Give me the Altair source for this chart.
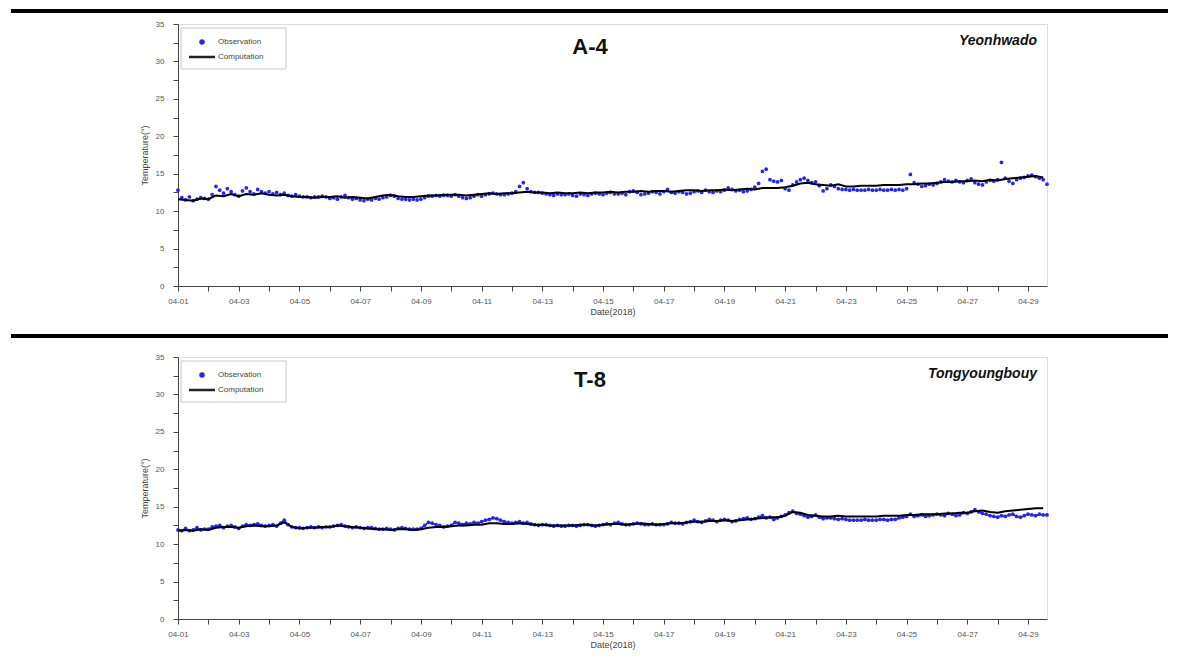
import altair as alt
import pandas as pd

START = "2018-04-01 00:00"
END = "2018-04-29 15:00"

series_names = ["Observation", "Computation"]
station_codes = ["A-4", "T-8"]
station_names = ["Yeonhwado", "Tongyoungbouy"]
y_ticks = [0, 2.5, 5, 7.5, 10, 12.5, 15, 17.5, 20, 22.5, 25, 27.5, 30, 32.5, 35]

# A-4 observation, 3-hourly from 04-01 00:00
obs_a4 = [
    12.8, 11.8, 11.5, 11.9, 11.4, 11.6, 11.8, 11.7,
    11.6, 12.2, 13.3, 12.8, 12.4, 13.0, 12.6, 12.2,
    12.0, 12.7, 13.1, 12.6, 12.3, 12.9, 12.6, 12.4,
    12.6, 12.3, 12.5, 12.2, 12.4, 12.1, 12.0, 12.2,
    12.0, 11.9, 11.9, 11.8, 11.9, 11.9, 12.0, 11.9,
    11.7, 11.8, 11.6, 11.9, 12.1, 11.8, 11.6, 11.7,
    11.5, 11.4, 11.6, 11.5, 11.7, 11.6, 11.8, 11.9,
    12.1, 12.0, 11.7, 11.6, 11.6, 11.5, 11.6, 11.5,
    11.6, 11.8, 12.0, 12.0, 12.1, 12.0, 12.1, 12.1,
    12.0, 12.2, 12.0, 11.8, 11.7, 11.8, 12.0, 12.2,
    12.0, 12.2, 12.3, 12.4, 12.3, 12.2, 12.2, 12.3,
    12.4, 12.6, 13.3, 13.8, 13.0, 12.6, 12.5, 12.5,
    12.4, 12.3, 12.2, 12.1, 12.3, 12.2, 12.2, 12.3,
    12.1, 12.0, 12.3, 12.2, 12.1, 12.3, 12.4, 12.3,
    12.2, 12.4, 12.5, 12.3, 12.3, 12.4, 12.2, 12.6,
    12.7, 12.5, 12.2, 12.3, 12.4, 12.6, 12.5, 12.3,
    12.6, 12.9, 12.5, 12.4, 12.6, 12.5, 12.3, 12.4,
    12.6, 12.7, 12.5, 12.8, 12.6, 12.5, 12.7, 12.6,
    12.8, 13.1, 12.9, 12.7, 12.8, 12.6, 12.7, 12.9,
    13.2, 13.7, 15.3, 15.6, 14.2, 14.0, 13.9, 14.1,
    13.0, 12.8, 13.5, 13.9, 14.2, 14.4, 14.1, 13.8,
    13.9, 13.4, 12.7, 13.0, 13.5, 13.3, 13.0, 12.9,
    12.9, 12.8, 12.9, 12.8, 12.8, 12.8, 12.9, 12.8,
    12.8, 12.9, 12.8, 12.8, 12.9, 12.8, 12.9, 12.8,
    13.0, 14.9, 13.8, 13.6, 13.3, 13.4, 13.6, 13.5,
    13.7, 13.9, 14.2, 14.0, 13.9, 14.1, 13.9, 13.8,
    14.1, 14.3, 13.8, 13.6, 13.5, 13.9, 14.1, 14.0,
    14.2, 16.5, 14.4, 14.0, 13.7, 14.2, 14.4, 14.5,
    14.7, 14.8, 14.6, 14.4, 14.2, 13.6,
]

# A-4 computation, 6-hourly from 04-01 00:00
comp_a4 = [
    11.6, 11.5, 11.4, 11.7, 11.6, 12.1, 12.0, 12.3,
    12.0, 12.3, 12.2, 12.4, 12.2, 12.1, 12.2, 12.0,
    11.9, 11.9, 11.8, 11.9, 11.9, 12.0, 11.8, 11.9,
    11.8, 11.7, 11.9, 12.1, 12.2, 12.0, 11.9, 11.9,
    12.0, 12.1, 12.1, 12.2, 12.2, 12.2, 12.1, 12.2,
    12.3, 12.4, 12.3, 12.4, 12.4, 12.5, 12.6, 12.5,
    12.5, 12.4, 12.5, 12.4, 12.4, 12.5, 12.4, 12.5,
    12.5, 12.6, 12.5, 12.6, 12.6, 12.7, 12.6, 12.7,
    12.7, 12.6, 12.7, 12.8, 12.8, 12.7, 12.8, 12.8,
    12.9, 12.8, 12.9, 13.0, 12.9, 13.1, 13.1, 13.1,
    13.2, 13.4, 13.7, 13.8, 13.6, 13.5, 13.4, 13.6,
    13.3, 13.3, 13.4, 13.4, 13.4, 13.5, 13.5, 13.5,
    13.6, 13.6, 13.7, 13.7, 13.8, 13.9, 13.9, 14.0,
    14.0, 14.1, 14.0, 14.2, 14.1, 14.3, 14.4, 14.5,
    14.6, 14.7, 14.5,
]

# T-8 observation, 3-hourly from 04-01 00:00
obs_t8 = [
    11.9, 11.8, 12.1, 11.8, 11.9, 12.2, 11.9, 12.0,
    12.0, 12.3, 12.4, 12.5, 12.2, 12.4, 12.5, 12.3,
    12.1, 12.4, 12.6, 12.5, 12.6, 12.7, 12.5, 12.4,
    12.5, 12.6, 12.4, 12.8, 13.2, 12.6, 12.3, 12.2,
    12.2, 12.1, 12.2, 12.3, 12.2, 12.3, 12.2, 12.3,
    12.3, 12.4, 12.5, 12.6, 12.4, 12.3, 12.2, 12.3,
    12.2, 12.1, 12.2, 12.2, 12.1, 12.0, 12.0, 12.1,
    12.0, 11.9, 12.1, 12.2, 12.1, 12.0, 12.0, 12.0,
    12.1, 12.5, 12.9, 12.8, 12.6, 12.5, 12.3, 12.4,
    12.5, 12.9, 12.8, 12.6, 12.8, 12.7, 12.9, 12.8,
    13.0, 13.2, 13.3, 13.5, 13.4, 13.2, 13.0, 12.9,
    12.8, 12.9, 13.0, 12.8, 12.9, 12.7, 12.6, 12.5,
    12.6, 12.6, 12.5, 12.4, 12.5, 12.4, 12.4, 12.5,
    12.5, 12.4, 12.5, 12.6, 12.6, 12.5, 12.4, 12.5,
    12.6, 12.7, 12.6, 12.8, 12.9, 12.7, 12.6, 12.6,
    12.7, 12.8, 12.7, 12.6, 12.6, 12.7, 12.6, 12.6,
    12.6, 12.7, 12.9, 12.8, 12.8, 12.7, 12.9, 13.0,
    13.2, 13.0, 12.9, 13.1, 13.3, 13.2, 13.0, 13.2,
    13.3, 13.2, 13.0, 13.1, 13.3, 13.4, 13.5, 13.3,
    13.4, 13.6, 13.8, 13.5, 13.6, 13.3, 13.5, 13.7,
    13.9, 14.2, 14.4, 14.1, 14.0, 13.8, 13.6, 13.7,
    13.9, 13.6, 13.4, 13.5, 13.5, 13.4, 13.3, 13.4,
    13.3, 13.2, 13.2, 13.2, 13.2, 13.3, 13.2, 13.2,
    13.2, 13.3, 13.3, 13.2, 13.3, 13.3, 13.5, 13.6,
    13.7, 14.0, 13.7, 13.8, 13.9, 13.7, 13.8, 13.9,
    14.0, 13.9, 13.8, 14.1, 14.0, 13.8, 13.9, 14.2,
    14.1, 14.3, 14.6, 14.3, 14.1, 14.0, 13.8, 13.7,
    13.6, 13.8, 13.7, 13.9, 14.0, 13.7, 13.6, 13.8,
    14.0, 13.9, 13.8, 14.0, 13.9, 13.9,
]

# T-8 computation, 6-hourly from 04-01 00:00
comp_t8 = [
    11.8, 11.9, 11.8, 12.0, 11.9, 12.2, 12.3, 12.3,
    12.2, 12.4, 12.5, 12.4, 12.4, 12.5, 12.9, 12.3,
    12.1, 12.2, 12.2, 12.3, 12.3, 12.5, 12.4, 12.3,
    12.2, 12.1, 12.0, 12.0, 11.9, 12.0, 12.0, 11.9,
    12.0, 12.2, 12.3, 12.3, 12.4, 12.5, 12.5, 12.6,
    12.6, 12.8, 12.8, 12.7, 12.7, 12.8, 12.7, 12.6,
    12.6, 12.5, 12.5, 12.5, 12.5, 12.6, 12.6, 12.5,
    12.6, 12.7, 12.7, 12.6, 12.7, 12.8, 12.7, 12.6,
    12.7, 12.8, 12.8, 12.9, 13.0, 13.0, 13.1, 13.1,
    13.2, 13.1, 13.2, 13.3, 13.4, 13.5, 13.6, 13.6,
    13.8, 14.3, 14.2, 13.9, 13.8, 13.7, 13.7, 13.8,
    13.7, 13.7, 13.7, 13.7, 13.7, 13.8, 13.8, 13.8,
    13.9, 13.9, 14.0, 14.0, 14.0, 14.1, 14.1, 14.2,
    14.2, 14.4, 14.5, 14.3, 14.2, 14.4, 14.5, 14.6,
    14.7, 14.8, 14.8,
]

FONT = "Liberation Sans"
OBS_COLOR = "#2626f2"
W, H = 869, 262


def frame(values, hours):
    t = pd.date_range(START, periods=len(values), freq=f"{hours}h")
    return pd.DataFrame({"time": t.strftime("%Y-%m-%dT%H:%M:%S"), "temp": values})


day_ticks = [alt.DateTime(year=2018, month=4, date=d) for d in range(1, 30)]
x_domain = [alt.DateTime(year=2018, month=4, date=1, hours=0),
            alt.DateTime(year=2018, month=4, date=29, hours=15)]

x_axis = alt.Axis(
    values=day_ticks,
    labelExpr="date(datum.value) % 2 == 1 ? timeFormat(datum.value, '%m-%d') : ''",
    title="Date(2018)", grid=False, tickSize=5, labelPadding=6, labelFlush=False,
    labelFontSize=8, titleFontSize=9, titleFontWeight="normal", titlePadding=2,
    labelColor="#555", titleColor="#444", domainColor="#444", tickColor="#444",
    labelFont=FONT, titleFont=FONT,
)
y_axis = alt.Axis(
    values=y_ticks,
    labelExpr="datum.value % 5 == 0 ? datum.label : ''",
    title="Temperature(°)", grid=False, tickSize=5, labelPadding=9,
    labelFontSize=8, titleFontSize=9, titleFontWeight="normal", titlePadding=6,
    labelColor="#555", titleColor="#444", domainColor="#444", tickColor="#444",
    labelFont=FONT, titleFont=FONT,
)


def one():
    return alt.Data(values=[{}])


def panel(obs, comp, code, name, rule_y, obs_line):
    x = alt.X("time:T", scale=alt.Scale(domain=x_domain), axis=x_axis)
    y = alt.Y("temp:Q", scale=alt.Scale(domain=[0, 35]), axis=y_axis)

    obs_df = frame(obs, 3)
    pts = alt.Chart(obs_df).mark_circle(size=14, color=OBS_COLOR, opacity=1).encode(x=x, y=y)
    layers = []
    if obs_line:
        layers.append(alt.Chart(obs_df).mark_line(color=OBS_COLOR, strokeWidth=1.6).encode(x=x, y=y))
    line = alt.Chart(frame(comp, 6)).mark_line(color="black", strokeWidth=2).encode(x=x, y=y)

    sep = alt.Chart(one()).mark_rule(color="black", strokeWidth=4).encode(
        x=alt.value(-167), x2=alt.value(990), y=alt.value(rule_y))

    box = alt.Chart(one()).mark_rect(fill="white", stroke="#c8c8c8", strokeWidth=1).encode(
        x=alt.value(3), x2=alt.value(108), y=alt.value(4), y2=alt.value(45))
    dot = alt.Chart(one()).mark_point(filled=True, size=30, color=OBS_COLOR, opacity=1).encode(
        x=alt.value(24), y=alt.value(18))
    seg = alt.Chart(one()).mark_rule(color="#222", strokeWidth=2.5).encode(
        x=alt.value(11), x2=alt.value(37), y=alt.value(33))
    t1 = alt.Chart(one()).mark_text(align="left", baseline="middle", fontSize=8,
                                    font=FONT, color="#444").encode(
        x=alt.value(40), y=alt.value(18), text=alt.value(series_names[0]))
    t2 = alt.Chart(one()).mark_text(align="left", baseline="middle", fontSize=8,
                                    font=FONT, color="#444").encode(
        x=alt.value(40), y=alt.value(33), text=alt.value(series_names[1]))

    ttl = alt.Chart(one()).mark_text(align="center", baseline="middle", fontSize=22,
                                     fontWeight="bold", font=FONT, color="#111").encode(
        x=alt.value(412), y=alt.value(23), text=alt.value(code))
    stn = alt.Chart(one()).mark_text(align="right", baseline="middle", fontSize=14,
                                     fontWeight="bold", fontStyle="italic", font=FONT,
                                     color="#111").encode(
        x=alt.value(859), y=alt.value(17), text=alt.value(name))

    return alt.layer(sep, *layers, pts, line, box, dot, seg, t1, t2, ttl, stn).properties(
        width=W, height=H)


p1 = panel(obs_a4, comp_a4, station_codes[0], station_names[0], -13, False)
p2 = panel(obs_t8, comp_t8, station_codes[1], station_names[1], -21, True)

chart = alt.vconcat(p1, p2, spacing=16).properties(padding=0).configure_view(
    stroke="#9a9a9a", strokeWidth=1.5
).configure(background="white")

chart.save("out.html", embed_options={"renderer": "svg", "actions": False})
